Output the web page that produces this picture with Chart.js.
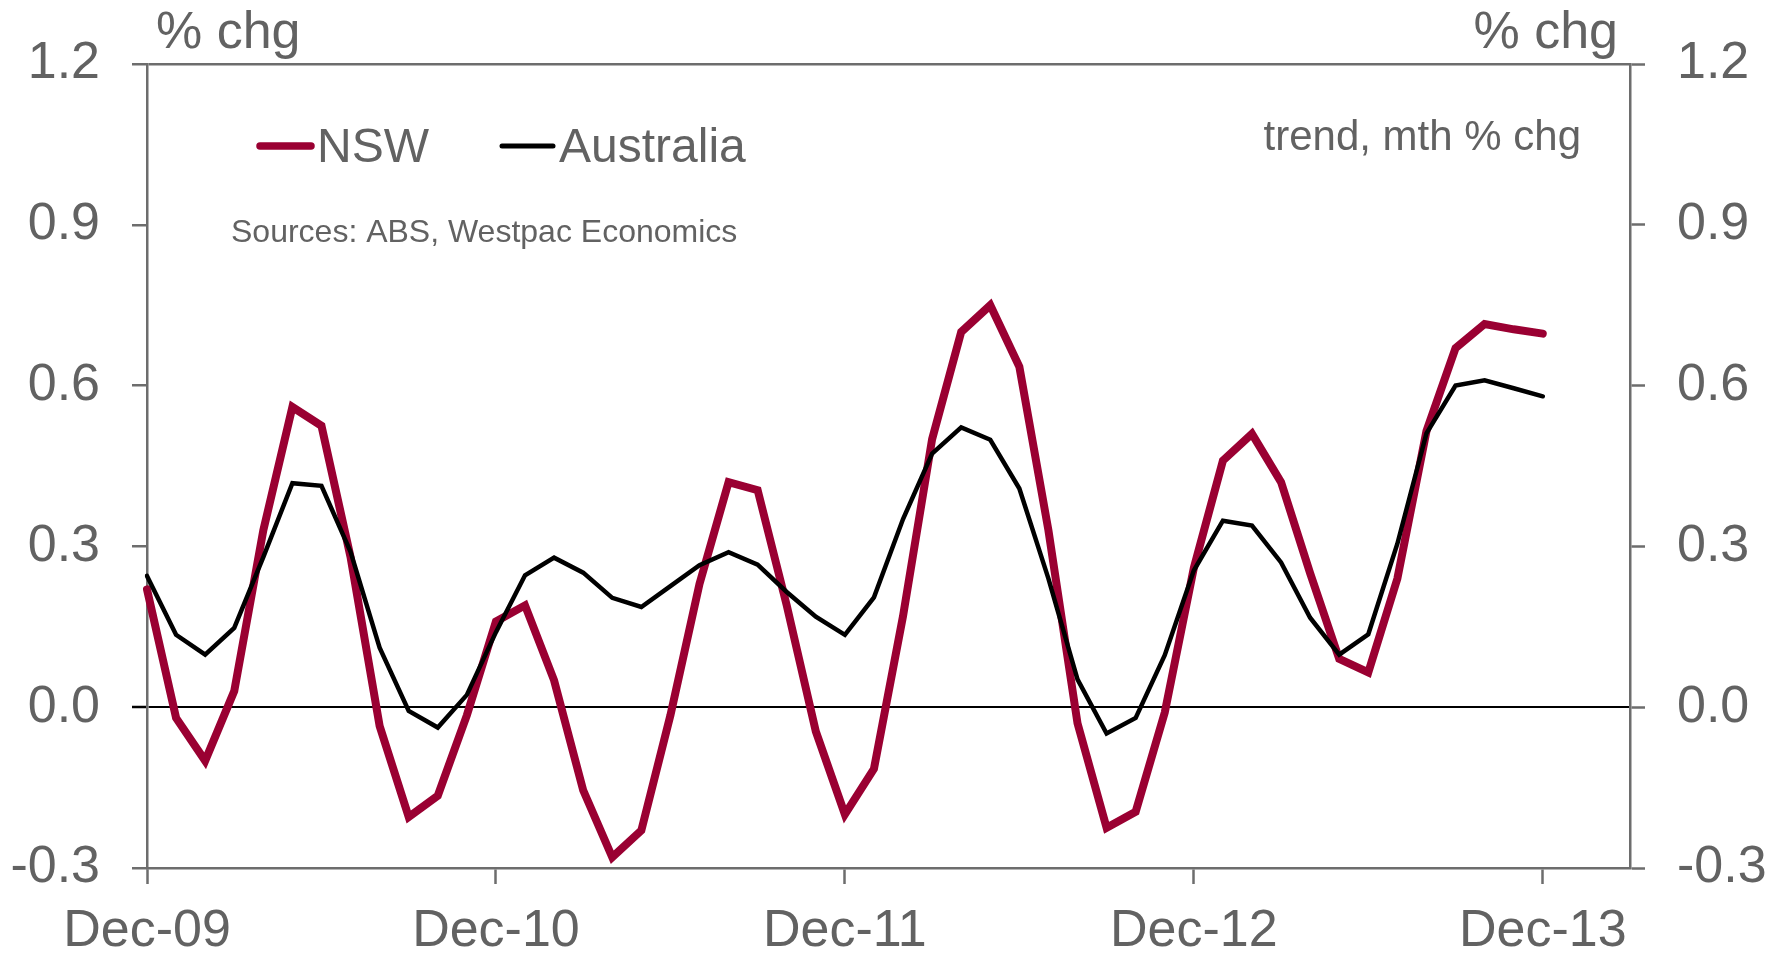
<!DOCTYPE html>
<html>
<head>
<meta charset="utf-8">
<title>NSW vs Australia</title>
<script src="https://cdn.jsdelivr.net/npm/chart.js@4.4.0/dist/chart.umd.min.js"></script>
<style>
  html, body { margin: 0; padding: 0; background: #fff; }
  #wrap { width: 1787px; height: 956px; }
</style>
</head>
<body>
<div id="wrap"><canvas id="lineChart" width="1787" height="956"></canvas></div>
<script>
// monthly, Dec-09 .. Mar-14 (axis runs 3 months past the last obs)
const months = [
    'Dec-09', 'Jan-10', 'Feb-10', 'Mar-10', 'Apr-10', 'May-10', 'Jun-10', 'Jul-10', 'Aug-10', 'Sep-10', 'Oct-10', 'Nov-10',
    'Dec-10', 'Jan-11', 'Feb-11', 'Mar-11', 'Apr-11', 'May-11', 'Jun-11', 'Jul-11', 'Aug-11', 'Sep-11', 'Oct-11', 'Nov-11',
    'Dec-11', 'Jan-12', 'Feb-12', 'Mar-12', 'Apr-12', 'May-12', 'Jun-12', 'Jul-12', 'Aug-12', 'Sep-12', 'Oct-12', 'Nov-12',
    'Dec-12', 'Jan-13', 'Feb-13', 'Mar-13', 'Apr-13', 'May-13', 'Jun-13', 'Jul-13', 'Aug-13', 'Sep-13', 'Oct-13', 'Nov-13',
    'Dec-13', 'Jan-14', 'Feb-14', 'Mar-14'
];

// trend, mth % chg
const nsw = [
    0.22, -0.02, -0.10, 0.03, 0.33, 0.56, 0.525, 0.28, -0.035, -0.205, -0.165, -0.015,
    0.16, 0.19, 0.05, -0.155, -0.28, -0.23, -0.015, 0.23, 0.42, 0.405, 0.19, -0.045,
    -0.20, -0.115, 0.17, 0.50, 0.70, 0.75, 0.635, 0.33, -0.03, -0.225, -0.195, -0.01,
    0.26, 0.46, 0.51, 0.42, 0.25, 0.09, 0.065, 0.24, 0.515, 0.67, 0.715, 0.705,
    0.697
];
const australia = [
    0.245, 0.135, 0.098, 0.148, 0.28, 0.418, 0.413, 0.29, 0.111, -0.007, -0.038, 0.023,
    0.14, 0.246, 0.279, 0.251, 0.204, 0.187, 0.226, 0.265, 0.289, 0.266, 0.215, 0.169,
    0.135, 0.205, 0.351, 0.473, 0.522, 0.499, 0.408, 0.24, 0.052, -0.049, -0.02, 0.097,
    0.255, 0.348, 0.339, 0.27, 0.167, 0.098, 0.136, 0.305, 0.511, 0.60, 0.61, 0.595,
    0.58
];

const yMin = -0.3;
const yMax = 1.2;
const yStep = 0.3;

const red = '#9a0032';
const grey = '#6d6d6d';
const textGrey = '#626262';
const fontFamily = '"Liberation Sans", Arial, sans-serif';

const near = (a, b) => Math.abs(a - b) < 1e-6;

// titles, note and legend drawn straight onto the canvas
const annotations = {
    id: 'annotations',
    afterDraw(chart) {
        const ctx = chart.ctx;
        const area = chart.chartArea;
        ctx.save();
        ctx.fillStyle = textGrey;
        ctx.textBaseline = 'alphabetic';

        ctx.font = '52px ' + fontFamily;
        ctx.textAlign = 'left';
        ctx.fillText('% chg', area.left + 9, 48);
        ctx.textAlign = 'right';
        ctx.fillText('% chg', area.right - 12, 48);

        ctx.font = '42px ' + fontFamily;
        ctx.fillText('trend, mth % chg', area.right - 49, 150);

        ctx.font = '32px ' + fontFamily;
        ctx.textAlign = 'left';
        ctx.fillText('Sources: ABS, Westpac Economics', 231, 242);

        // legend
        const items = [
            { x: 257, text: chart.data.datasets[1].label, color: red, width: 7.5 },
            { x: 499, text: chart.data.datasets[0].label, color: '#000', width: 5 }
        ];
        ctx.font = '48px ' + fontFamily;
        ctx.lineCap = 'round';
        items.forEach(it => {
            ctx.strokeStyle = it.color;
            ctx.lineWidth = it.width;
            ctx.beginPath();
            ctx.moveTo(it.x + 3, 146);
            ctx.lineTo(it.x + 54, 146);
            ctx.stroke();
            ctx.fillStyle = textGrey;
            ctx.fillText(it.text, it.x + 60, 162);
        });
        ctx.restore();
    }
};

const lineChart = document.getElementById('lineChart').getContext('2d');

const config = {
    type: 'line',
    data: {
        labels: months,
        datasets: [{
            label: 'Australia',
            data: australia,
            borderColor: '#000',
            borderWidth: 4.5,
            pointRadius: 0,
            tension: 0,
            borderCapStyle: 'round',
            order: 0,
            yAxisID: 'y'
        }, {
            label: 'NSW',
            data: nsw,
            borderColor: red,
            borderWidth: 8,
            pointRadius: 0,
            tension: 0,
            borderCapStyle: 'round',
            order: 1,
            yAxisID: 'y'
        }]
    },
    options: {
        responsive: false,
        animation: false,
        layout: { padding: { top: 64, left: 0, right: 0, bottom: 0 } },
        plugins: {
            legend: { display: false },
            tooltip: { enabled: false }
        },
        scales: {
            x: {
                type: 'category',
                offset: false,
                afterFit: s => { s.height = 88; },
                border: { color: grey, width: 2.5 },
                grid: {
                    drawOnChartArea: false,
                    tickLength: 16,
                    tickWidth: 2.5,
                    tickColor: c => (c.index % 12 === 0 ? grey : 'rgba(0,0,0,0)')
                },
                ticks: {
                    autoSkip: false,
                    maxRotation: 0,
                    padding: 16,
                    color: textGrey,
                    font: { family: fontFamily, size: 52 },
                    callback: (v, i) => (i % 12 === 0 ? months[i] : '')
                }
            },
            y: {
                position: 'left',
                min: yMin,
                max: yMax,
                afterFit: s => { s.width = 147; },
                border: { color: grey, width: 2.5 },
                grid: {
                    tickLength: 15,
                    tickWidth: 2.5,
                    color: c => near(c.tick.value, 0) ? '#000' : (near(c.tick.value, yMax) ? grey : 'rgba(0,0,0,0)'),
                    lineWidth: c => near(c.tick.value, 0) ? 2 : 2.5,
                    tickColor: c => near(c.tick.value, 0) ? '#000' : grey
                },
                ticks: {
                    stepSize: yStep,
                    padding: 32,
                    color: textGrey,
                    font: { family: fontFamily, size: 52 },
                    callback: v => v.toFixed(1)
                }
            },
            y2: {
                position: 'right',
                min: yMin,
                max: yMax,
                afterFit: s => { s.width = 157; },
                border: { color: grey, width: 2.5 },
                grid: {
                    drawOnChartArea: false,
                    tickLength: 15,
                    tickWidth: 2.5,
                    tickColor: grey
                },
                ticks: {
                    stepSize: yStep,
                    padding: 32,
                    color: textGrey,
                    font: { family: fontFamily, size: 52 },
                    callback: v => v.toFixed(1)
                }
            }
        }
    },
    plugins: [annotations]
};

const chart1 = new Chart(lineChart, config);
</script>
</body>
</html>
